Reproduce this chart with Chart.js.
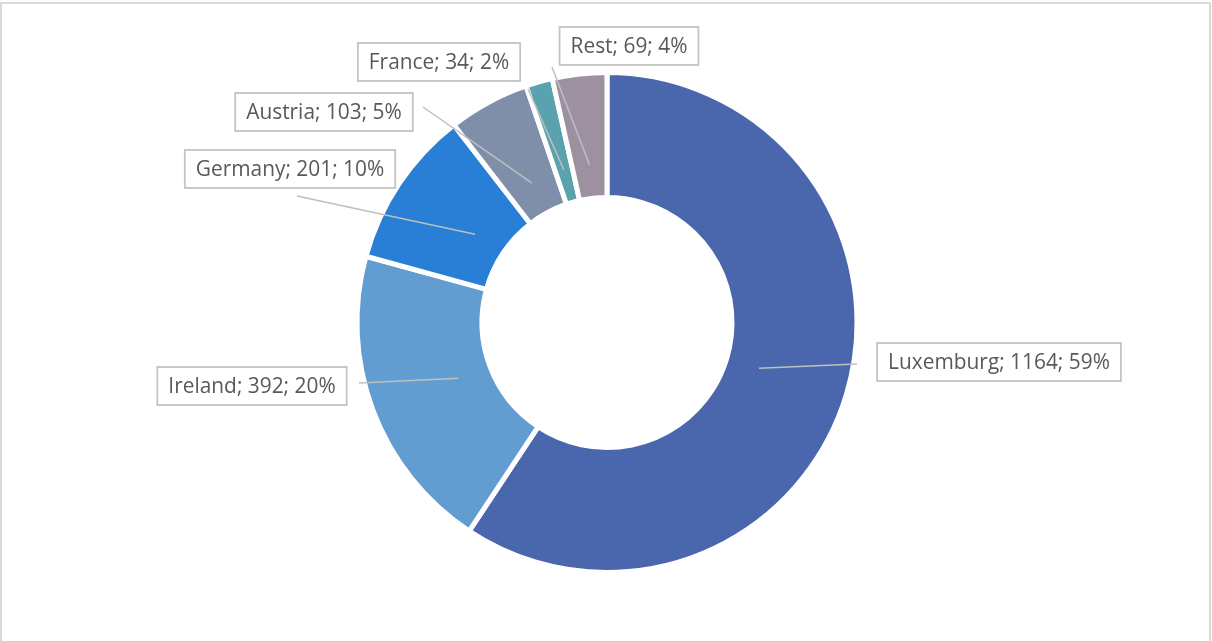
<!DOCTYPE html>
<html>
<head>
<meta charset="utf-8">
<script src="https://cdn.jsdelivr.net/npm/chart.js@4"></script>
<style>
    body { margin: 0; background: #fff; }
    canvas { display: block; }
</style>
</head>
<body>
<canvas id="donut" width="1212" height="641"></canvas>
<script>
const countries = ['Luxemburg', 'Ireland', 'Germany', 'Austria', 'France', 'Rest'];
const counts = [1164, 392, 201, 103, 34, 69];
const colors = ['#4A66AC', '#629DD1', '#297FD5', '#7F8FA9', '#5AA2AE', '#9D90A0'];

// label box centres and leader line starts (page pixels)
const labelBoxes = [
    { cx: 999, cy: 362, lx: 857, ly: 364 },
    { cx: 252, cy: 386, lx: 359, ly: 383 },
    { cx: 290, cy: 169, lx: 297, ly: 196 },
    { cx: 324, cy: 112, lx: 423, ly: 107 },
    { cx: 439, cy: 62, lx: 528, ly: 89 },
    { cx: 629, cy: 46, lx: 552, ly: 67 }
];

const total = counts.reduce((a, b) => a + b, 0);
const labelFont = 'Open Sans';
const labelText = countries.map((c, i) => `${c}; ${counts[i]}; ${Math.round(counts[i] / total * 100)}%`);

// Étiquettes avec cadre et ligne de rappel
const calloutPlugin = {
    id: 'callouts',
    beforeDraw(chart) {
        const ctx = chart.ctx;
        ctx.save();
        ctx.strokeStyle = '#d9d9d9';
        ctx.lineWidth = 2;
        ctx.strokeRect(1, 3, 1209, 650);
        ctx.restore();
    },
    afterDatasetsDraw(chart) {
        const ctx = chart.ctx;
        const arcs = chart.getDatasetMeta(0).data;

        // ajuster la taille pour coller à la largeur de Calibri
        ctx.save();
        ctx.font = `100px "${labelFont}"`;
        const size = 100 * 222 / ctx.measureText(labelText[0]).width;
        ctx.font = `${size}px "${labelFont}"`;

        arcs.forEach((arc, i) => {
            const box = labelBoxes[i];
            const mid = (arc.startAngle + arc.endAngle) / 2;
            const r = arc.innerRadius + 0.27 * (arc.outerRadius - arc.innerRadius);
            const ex = arc.x + Math.cos(mid) * r;
            const ey = arc.y + Math.sin(mid) * r;

            ctx.strokeStyle = '#bfbfbf';
            ctx.lineWidth = 1.5;
            ctx.beginPath();
            ctx.moveTo(box.lx, box.ly);
            ctx.lineTo(ex, ey);
            ctx.stroke();

            const w = ctx.measureText(labelText[i]).width + 22;
            const h = 38;
            ctx.fillStyle = '#fff';
            ctx.fillRect(box.cx - w / 2, box.cy - h / 2, w, h);
            ctx.strokeStyle = '#c4c4c4';
            ctx.lineWidth = 1.8;
            ctx.strokeRect(box.cx - w / 2, box.cy - h / 2, w, h);

            ctx.fillStyle = '#595959';
            ctx.textAlign = 'center';
            ctx.textBaseline = 'middle';
            ctx.fillText(labelText[i], box.cx, box.cy + 1);
        });
        ctx.restore();
    }
};

new Chart(document.getElementById('donut'), {
    type: 'doughnut',
    data: {
        labels: countries,
        datasets: [{
            data: counts,
            backgroundColor: colors,
            borderColor: '#ffffff',
            borderWidth: 5
        }]
    },
    options: {
        responsive: false,
        animation: false,
        cutout: '50%',
        layout: { padding: { top: 70, bottom: 66, left: 2, right: 0 } },
        plugins: {
            legend: { display: false },
            tooltip: { enabled: false }
        }
    },
    plugins: [calloutPlugin]
});
</script>
</body>
</html>
